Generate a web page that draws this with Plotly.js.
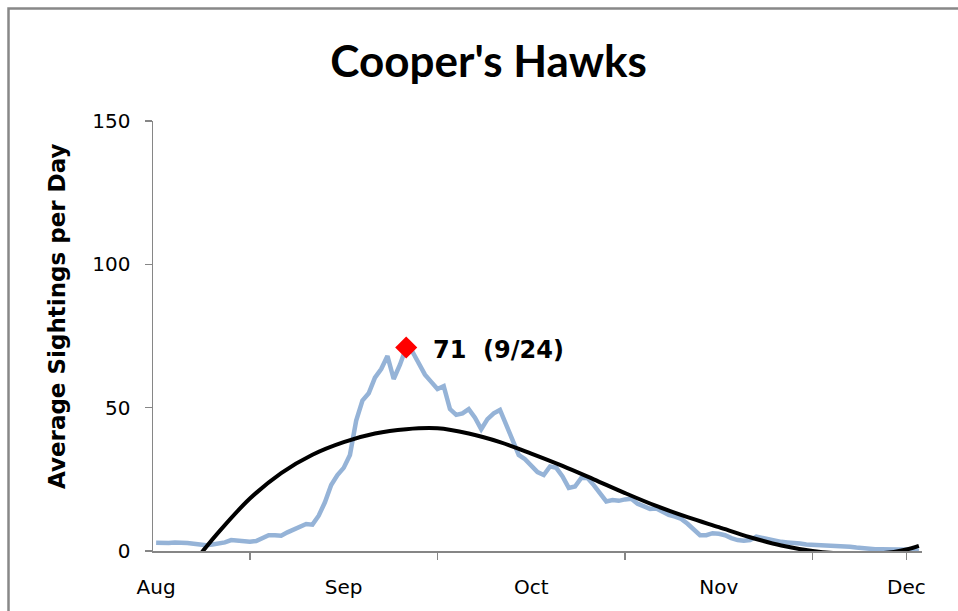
<!DOCTYPE html>
<html>
<head>
<meta charset="utf-8">
<script src="https://cdn.plot.ly/plotly-3.0.1.min.js"></script>
<style>html,body{margin:0;padding:0;background:#fff;}#chart{width:958px;height:611px;}</style>
</head>
<body>
<div id="chart"></div>
<script>
// Day index 0 = mid-August, one point per day
const dayIndex = Array.from({length: 123}, (_, i) => i);

const sightings = [
  2.9, 2.8, 2.8, 3.0, 3.0, 2.8, 2.5, 2.1, 2.0, 2.3,
  2.5, 3.0, 3.8, 3.6, 3.4, 3.2, 3.5, 4.5, 5.5, 5.5,
  5.3, 6.5, 7.5, 8.8, 9.4, 9.2, 12.3, 17.0, 23.0, 26.5,
  29.0, 33.5, 45.5, 52.5, 55.0, 60.5, 63.5, 68.0, 60.0, 65.0,
  71.0, 69.5, 65.5, 61.5, 59.0, 56.5, 57.5, 49.5, 47.5, 48.0,
  49.5, 46.5, 42.5, 46.0, 48.0, 49.2, 44.0, 38.5, 33.5, 32.0,
  30.0, 27.5, 26.5, 29.5, 29.0, 26.0, 22.0, 22.5, 25.5, 25.5,
  23.0, 20.0, 17.3, 17.8, 17.5, 18.0, 18.2, 16.5, 15.4, 14.7,
  14.8, 13.6, 12.6, 12.0, 11.2, 9.5, 7.5, 5.5, 5.5, 6.2,
  6.0, 5.5, 4.5, 3.8, 3.6, 3.8, 5.0, 4.5, 4.0, 3.5,
  3.2, 3.0, 2.9, 2.6, 2.3, 2.2, 2.1, 2.1, 2.0, 1.8,
  1.7, 1.5, 1.2, 0.9, 0.6, 0.6, 0.6, 0.6, 0.6, 0.6,
  0.5, 0.4, 0.1
];

// Trend curve
const trendDays = [0, 5, 8, 10, 15, 20, 25, 30, 35, 40, 45, 50, 55, 60, 65, 70, 75, 80, 85, 90, 95, 100, 105, 110, 115, 118, 120, 122];
const trendValues = [-23, -7, 1.4, 6.6, 18.3, 27.2, 33.6, 38.0, 41.0, 42.5, 42.8, 41.0, 38.0, 34.0, 29.7, 25.0, 20.2, 15.7, 11.8, 8.3, 4.8, 1.9, 0, -0.9, -0.9, -0.3, 0.5, 1.8];

const peakDay = [40];
const peakValue = [71];
const peakDate = '9/24';

const monthTickDays = [0, 30, 60, 90, 120];
const monthLabels = ['Aug', 'Sep', 'Oct', 'Nov', 'Dec'];
const tickMarkDays = [15, 45, 75, 105, 120];
const yTicks = [0, 50, 100, 150];
const yTitle = 'Average Sightings per Day';

const TITLE_FONT = 'Lato, "Open Sans", "Liberation Sans", sans-serif';
const FONT = '"DejaVu Sans", Verdana, sans-serif';
const AXIS_GRAY = '#868686';

const traces = [
  {
    x: dayIndex, y: sightings, type: 'scatter', mode: 'lines',
    line: {color: '#95B3D7', width: 4.5}, hoverinfo: 'skip', showlegend: false
  },
  {
    x: trendDays, y: trendValues, type: 'scatter', mode: 'lines',
    line: {color: '#000000', width: 4, shape: 'spline', smoothing: 1}, hoverinfo: 'skip', showlegend: false
  },
  {
    x: peakDay, y: peakValue, type: 'scatter', mode: 'markers', xaxis: 'x2',
    marker: {symbol: 'diamond', size: 17, color: '#FF0000'}, cliponaxis: false, showlegend: false
  }
];

const layout = {
  width: 958, height: 611,
  margin: {l: 153, r: 36, t: 121, b: 60},
  paper_bgcolor: '#ffffff', plot_bgcolor: '#ffffff',
  showlegend: false,
  title: {
    text: "Cooper's Hawks",
    font: {family: TITLE_FONT, size: 44, color: '#000', weight: 'bold'},
    x: 0.51, xanchor: 'center', y: 0.899, yanchor: 'middle'
  },
  xaxis: {
    range: [-0.5, 122.5], tickvals: monthTickDays, ticktext: monthLabels,
    ticks: 'outside', ticklen: 17, tickcolor: 'rgba(0,0,0,0)',
    showline: true, linecolor: AXIS_GRAY, linewidth: 1.5,
    showgrid: false, zeroline: false,
    tickfont: {family: FONT, size: 20, color: '#000'}
  },
  xaxis2: {
    overlaying: 'x', anchor: 'y', side: 'bottom',
    range: [-0.5, 122.5], tickvals: tickMarkDays, showticklabels: false,
    ticks: 'outside', ticklen: 8, tickwidth: 1.5, tickcolor: AXIS_GRAY,
    showline: false, showgrid: false, zeroline: false
  },
  yaxis: {
    range: [0, 150], tickvals: yTicks,
    ticks: 'outside', ticklen: 7, tickwidth: 1.5, tickcolor: AXIS_GRAY,
    ticklabelstandoff: 10,
    showline: true, linecolor: AXIS_GRAY, linewidth: 1.5,
    showgrid: false, zeroline: false,
    tickfont: {family: FONT, size: 20, color: '#000'}
  },
  annotations: [
    {
      x: peakDay[0], y: peakValue[0], xref: 'x', yref: 'y',
      text: peakValue[0] + '  (' + peakDate + ')',
      showarrow: false, xanchor: 'left', yanchor: 'middle', xshift: 25, yshift: -3,
      font: {family: FONT, size: 24, color: '#000', weight: 'bold'}
    },
    {
      x: -0.1248, y: 0.5465, xref: 'paper', yref: 'paper',
      text: yTitle, textangle: -90, showarrow: false,
      xanchor: 'center', yanchor: 'middle',
      font: {family: FONT, size: 23, color: '#000', weight: 'bold'}
    }
  ],
  shapes: [{
    type: 'path', xref: 'paper', yref: 'paper',
    path: 'M -0.1879,-0.3 L -0.1879,1.2616 L 1.2,1.2616',
    line: {color: '#888888', width: 2.5}
  }]
};

Plotly.newPlot('chart', traces, layout, {staticPlot: true, displayModeBar: false});
</script>
</body>
</html>
